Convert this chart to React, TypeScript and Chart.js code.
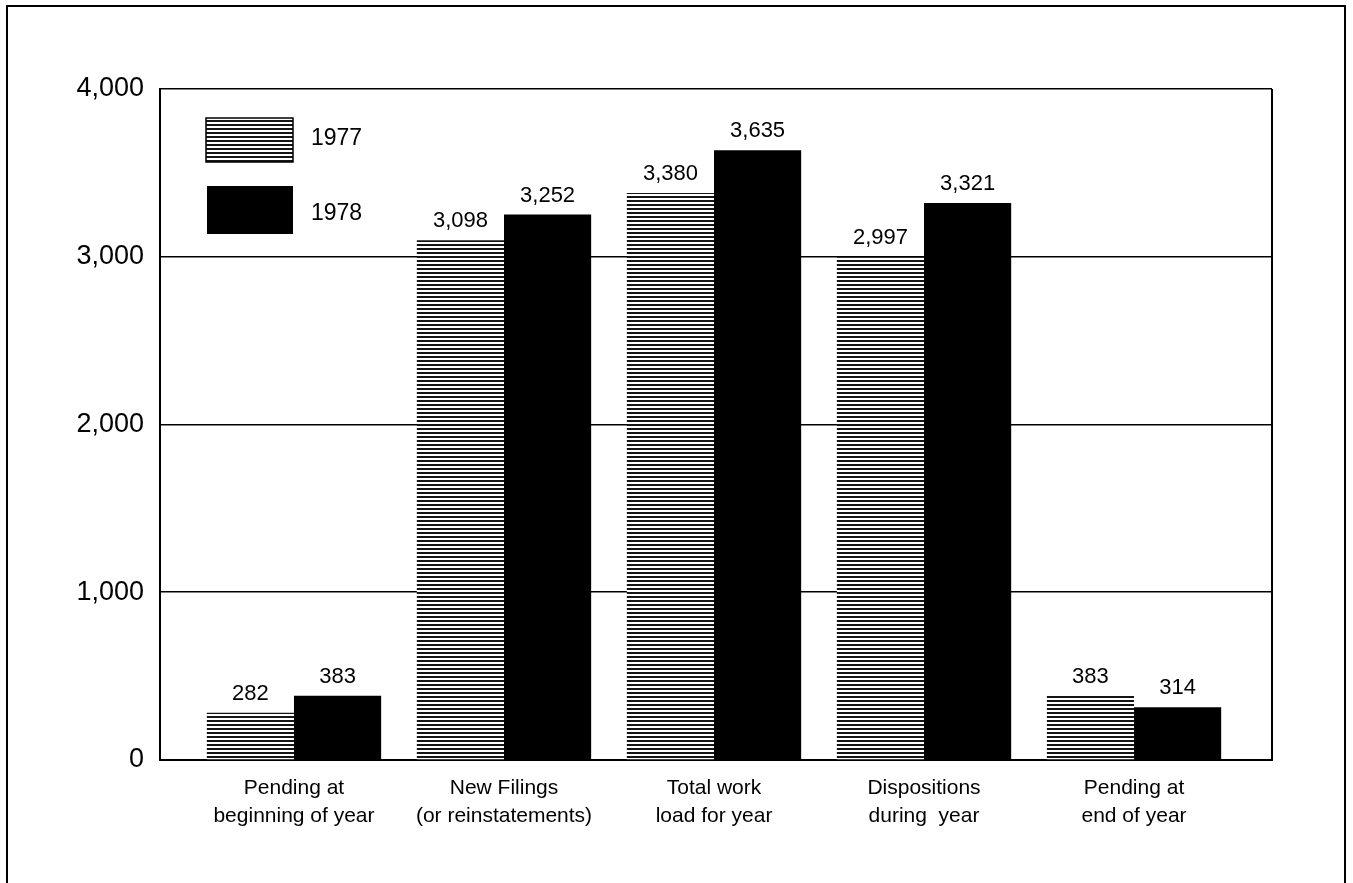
import React, { useEffect, useRef } from "react";
import { Chart, registerables } from "chart.js";

Chart.register(...registerables);

const categories: string[][] = [
  ["Pending at", "beginning of year"],
  ["New Filings", "(or reinstatements)"],
  ["Total work", "load for year"],
  ["Dispositions", "during  year"],
  ["Pending at", "end of year"],
];
const seriesNames = ["1977", "1978"];
const values1977 = [282, 3098, 3380, 2997, 383];
const values1978 = [383, 3252, 3635, 3321, 314];
const yTicks = [0, 1000, 2000, 3000, 4000];

const FONT = "'Liberation Sans', Arial, Helvetica, sans-serif";

function fmt(n: number): string {
  return String(n).replace(/\B(?=(\d{3})+(?!\d))/g, ",");
}

function makeHatch(): CanvasPattern | string {
  const c = document.createElement("canvas");
  c.width = 8;
  c.height = 4;
  const g = c.getContext("2d");
  if (!g) return "#777";
  g.fillStyle = "#ffffff";
  g.fillRect(0, 0, 8, 4);
  g.fillStyle = "#151515";
  g.fillRect(0, 0, 8, 2);
  const p = g.createPattern(c, "repeat");
  return p || "#777";
}

export default function App() {
  const ref = useRef<HTMLCanvasElement | null>(null);

  useEffect(() => {
    document.body.style.margin = "0";
    document.body.style.overflow = "hidden";
    const canvas = ref.current;
    if (!canvas) return;
    const hatch = makeHatch();

    const framePlugin = {
      id: "framePlugin",
      beforeDraw(chart: any) {
        const ctx = chart.ctx;
        ctx.save();
        ctx.fillStyle = "#ffffff";
        ctx.fillRect(0, 0, chart.width, chart.height);
        ctx.strokeStyle = "#000";
        ctx.lineWidth = 2;
        ctx.beginPath();
        ctx.moveTo(7, 883);
        ctx.lineTo(7, 6);
        ctx.lineTo(1345, 6);
        ctx.lineTo(1345, 883);
        ctx.stroke();
        ctx.restore();
      },
      afterDraw(chart: any) {
        const ctx = chart.ctx;
        const a = chart.chartArea;
        ctx.save();
        ctx.strokeStyle = "#000";
        ctx.lineWidth = 2;
        ctx.beginPath();
        ctx.moveTo(a.right, a.top);
        ctx.lineTo(a.right, a.bottom);
        ctx.stroke();
        // legend
        const lx = a.left + 46;
        const ly = a.top + 29;
        ctx.fillStyle = hatch as any;
        ctx.fillRect(lx, ly, 87, 44);
        ctx.lineWidth = 1.5;
        ctx.strokeRect(lx, ly, 87, 44);
        ctx.fillStyle = "#000";
        ctx.fillRect(lx + 1, ly + 68, 86, 48);
        ctx.font = `23px ${FONT}`;
        ctx.textAlign = "left";
        ctx.textBaseline = "middle";
        ctx.fillText(seriesNames[0], lx + 105, ly + 21);
        ctx.fillText(seriesNames[1], lx + 105, ly + 96);
        ctx.restore();
      },
      afterDatasetsDraw(chart: any) {
        const ctx = chart.ctx;
        ctx.save();
        ctx.fillStyle = "#000";
        ctx.font = `22px ${FONT}`;
        ctx.textAlign = "center";
        ctx.textBaseline = "bottom";
        chart.data.datasets.forEach((ds: any, di: number) => {
          const meta = chart.getDatasetMeta(di);
          meta.data.forEach((el: any, i: number) => {
            ctx.fillText(fmt(ds.data[i].y), el.x, el.y - 8);
          });
        });
        ctx.restore();
      },
    };

    const chart = new Chart(canvas, {
      type: "bar",
      data: {
        datasets: [
          {
            label: seriesNames[0],
            data: values1977.map((v, i) => ({ x: i, y: v })),
            backgroundColor: hatch as any,
            borderWidth: 0,
          },
          {
            label: seriesNames[1],
            data: values1978.map((v, i) => ({ x: i, y: v })),
            backgroundColor: "#000000",
            borderWidth: 0,
          },
        ],
      },
      options: {
        animation: false,
        responsive: false,
        devicePixelRatio: 1,
        layout: { padding: { left: 0, top: 89, right: 81, bottom: 0 } },
        plugins: { legend: { display: false }, tooltip: { enabled: false } },
        datasets: { bar: { categoryPercentage: 0.83, barPercentage: 1 } },
        scales: {
          x: {
            type: "linear",
            min: -0.638,
            max: 4.657,
            offset: false,
            grid: { display: false, drawTicks: false },
            border: { display: true, color: "#000", width: 2 },
            afterBuildTicks: (scale: any) => {
              scale.ticks = categories.map((_, i) => ({ value: i }));
            },
            afterFit: (scale: any) => {
              scale.height = 123;
            },
            ticks: {
              autoSkip: false,
              maxRotation: 0,
              minRotation: 0,
              padding: 14,
              color: "#000",
              font: { family: FONT, size: 21, lineHeight: 1.35 },
              callback: (v: any) => categories[Math.round(Number(v))] as any,
            },
          },
          y: {
            min: 0,
            max: 4000,
            afterBuildTicks: (scale: any) => {
              scale.ticks = yTicks.map((v) => ({ value: v }));
            },
            afterFit: (scale: any) => {
              scale.width = 160;
            },
            grid: { color: "#000", lineWidth: 1.6, drawTicks: false },
            border: { display: true, color: "#000", width: 2 },
            ticks: {
              padding: 16,
              color: "#000",
              font: { family: FONT, size: 27 },
              callback: (v: any) => fmt(Number(v)),
            },
          },
        },
      },
      plugins: [framePlugin],
    } as any);

    return () => chart.destroy();
  }, []);

  return <canvas ref={ref} width={1353} height={883} style={{ display: "block" }} />;
}
